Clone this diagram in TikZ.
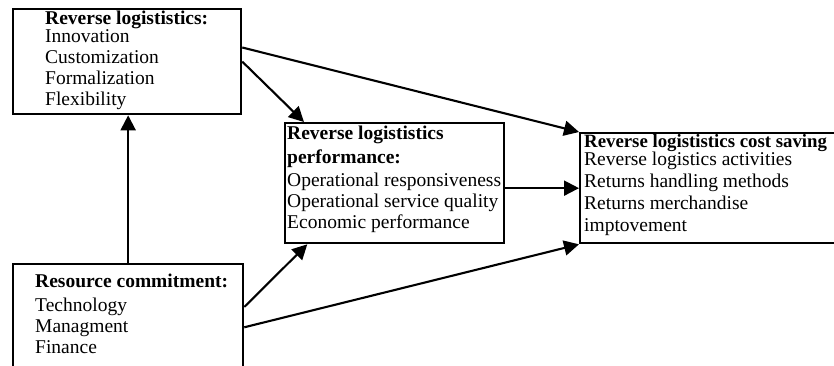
\documentclass[tikz,border=0pt]{standalone}
\usepackage{fontspec}
\setmainfont{Liberation Serif}
\usetikzlibrary{arrows.meta}

\begin{document}
\begin{tikzpicture}[x=1pt,y=-1pt,
  box/.style={draw, line width=2.3pt, inner sep=0pt, anchor=north west},
  txt/.style={inner sep=0pt, anchor=north west, align=left, font=\fontsize{19.5}{21}\selectfont},
  link/.style={line width=2.1pt, -{Triangle[length=15pt,width=15pt]}}]

\useasboundingbox (0,0) rectangle (834,365);

% Box A
\node[box, minimum width=228pt, minimum height=105pt] (A) at (12,8) {};
\node[txt] (a) at (45,11) {\textbf{Reverse logististics:}\\[-3pt]
  Innovation\\ Customization\\ Formalization\\ Flexibility};

% Box B
\node[box, minimum width=230pt, minimum height=110pt] (B) at (12,263) {};
\node[txt] (b) at (35,274) {\textbf{Resource commitment:}\\[3pt]
  Technology\\ Managment\\ Finance};

% Box C
\node[box, minimum width=219pt, minimum height=120pt] (C) at (284,122) {};
\node[txt] (c) at (287,126) {\textbf{Reverse logististics}\\[3pt]
  \textbf{performance:}\\[2pt] Operational responsiveness\\
  Operational service quality\\ Economic performance};

% Box D
\node[box, minimum width=266pt, minimum height=110pt] (D) at (579,132) {};
\node[txt] (d) at (584,134) {{\fontsize{18.8}{21}\selectfont\bfseries Reverse logististics cost saving}\\[-3pt]
  Reverse logistics activities\\[1pt] Returns handling methods\\[1pt]
  Returns merchandise\\[1pt] imptovement};

% links
\draw[link] (B.north) -- (B.north |- A.south);
\draw[link] (A.7) -- (D.north west);
\draw[link] (A.east) -- (C.146);
\draw[link] (B.6) -- (C.215);
\draw[link] (B.-4) -- (D.south west);
\draw[link] (D.west -| C.east) -- (D.west);

\end{tikzpicture}
\end{document}
